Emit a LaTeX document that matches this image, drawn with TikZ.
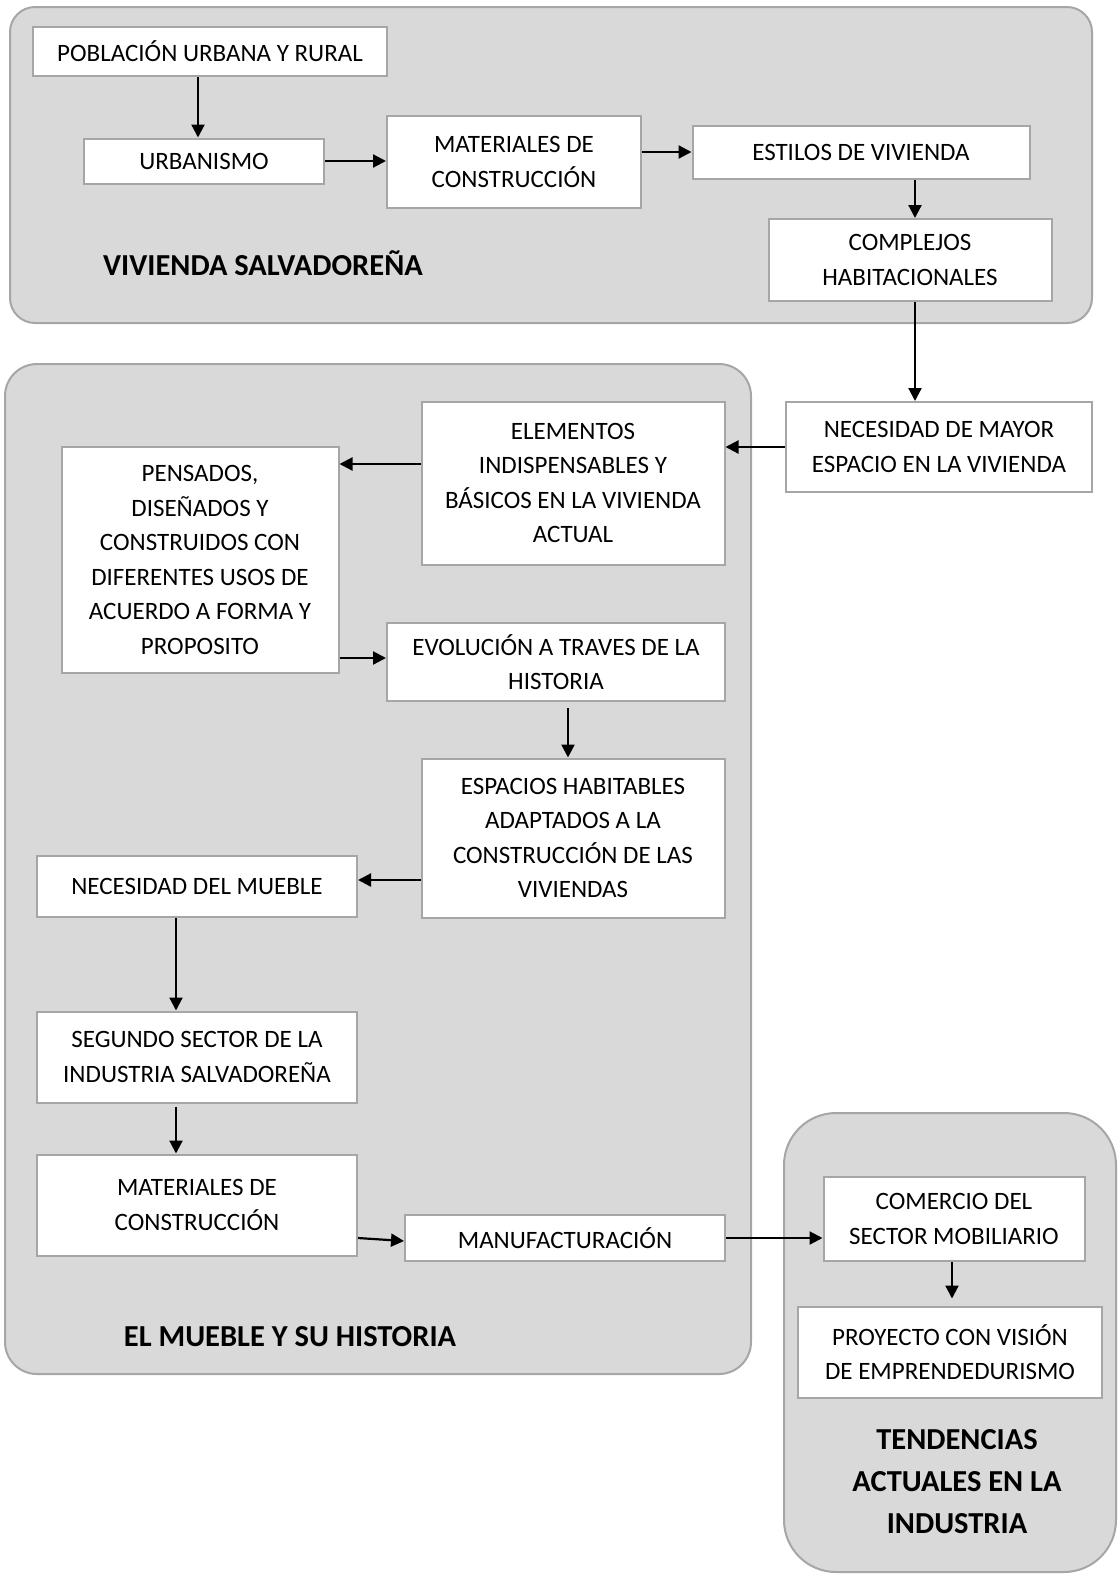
\documentclass[tikz,border=0pt]{standalone}
\usepackage{fontspec}
\setmainfont{Carlito}
\usetikzlibrary{calc}
\usetikzlibrary{arrows.meta}
\definecolor{panelgray}{HTML}{D9D9D9}
\definecolor{edgegray}{HTML}{A6A6A6}
\tikzstyle{panel}=[draw=edgegray,line width=2pt,fill=panelgray]
\tikzstyle{box}=[draw=edgegray,line width=2pt,fill=white,inner sep=0pt,align=center,font={\fontsize{25}{34.5}\selectfont}]
\tikzstyle{arr}=[line width=2.2pt,-{Triangle[length=13pt,width=13pt]}]
\tikzstyle{title}=[align=center,font={\fontsize{30.5}{42}\selectfont\bfseries}]
\newcommand{\boxat}[5]{% name, center x, center y, width, height
  \node[box,minimum width=#4pt,minimum height=#5pt] (#1) at (#2,#3)
}
\begin{document}
\begin{tikzpicture}[x=1pt,y=-1pt]
\useasboundingbox (0,0) rectangle (1119,1575);
% the three grey panels
\draw[panel,rounded corners=25pt] (10,7) rectangle (1092,323);
\draw[panel,rounded corners=32pt] (5,364) rectangle (751,1374);
\draw[panel,rounded corners=52pt] (784,1113) rectangle (1116,1572);
% vivienda salvadorena
\boxat{pob}{210}{51.5}{354}{49} {POBLACIÓN URBANA Y RURAL};
\boxat{urb}{204}{161}{240}{45} {URBANISMO};
\boxat{mat1}{514}{162}{254}{92} {MATERIALES DE\\CONSTRUCCIÓN};
\boxat{est}{861}{152}{337}{53} {ESTILOS DE VIVIENDA};
\boxat{comp}{910}{260}{283}{82} {COMPLEJOS\\HABITACIONALES};
\node[title] (vivlabel) at (263,263) {VIVIENDA SALVADOREÑA};
% el mueble y su historia
\boxat{nec1}{939}{447}{306}{90} {NECESIDAD DE MAYOR\\ESPACIO EN LA VIVIENDA};
\boxat{elem}{573}{483}{303}{163} {ELEMENTOS\\INDISPENSABLES Y\\BÁSICOS EN LA VIVIENDA\\ACTUAL};
\boxat{pens}{200}{560}{277}{226} {PENSADOS,\\DISEÑADOS Y\\CONSTRUIDOS CON\\DIFERENTES USOS DE\\ACUERDO A FORMA Y\\PROPOSITO};
\boxat{evol}{556}{662}{338}{78} {EVOLUCIÓN A TRAVES DE LA\\HISTORIA};
\boxat{esp}{573}{838}{303}{159} {ESPACIOS HABITABLES\\ADAPTADOS A LA\\CONSTRUCCIÓN DE LAS\\VIVIENDAS};
\boxat{necm}{197}{886}{320}{61} {NECESIDAD DEL MUEBLE};
\boxat{seg}{197}{1057}{320}{91} {SEGUNDO SECTOR DE LA\\INDUSTRIA SALVADOREÑA};
\boxat{mat2}{197}{1205}{320}{101} {MATERIALES DE\\CONSTRUCCIÓN};
\boxat{manu}{565}{1238}{320}{46} {MANUFACTURACIÓN};
\node[title] (muelabel) at (290,1337) {EL MUEBLE Y SU HISTORIA};
% tendencias
\boxat{com}{954}{1219}{261}{84} {COMERCIO DEL\\SECTOR MOBILIARIO};
\boxat{proy}{950}{1352}{304}{91} {PROYECTO CON VISIÓN\\DE EMPRENDEDURISMO};
\node[title] (tendlabel) at (957,1482) {TENDENCIAS\\ACTUALES EN LA\\INDUSTRIA};
% arrows
\draw[arr] ($(pob.south)+(-12,0)$) -- ($(urb.north)+(-6,0)$);
\draw[arr] (urb.east) -- (urb.east -| mat1.west);
\draw[arr] (mat1.east |- est.west) -- (est.west);
\draw[arr] ($(comp.north |- est.south)+(5,0)$) -- ($(comp.north)+(5,0)$);
\draw[arr] ($(comp.south)+(5,0)$) -- ($(comp.south |- nec1.north)+(5,0)$);
\draw[arr] (nec1.west) -- (nec1.west -| elem.east);
\draw[arr] ($(elem.west)+(0,-19)$) -- ($(elem.west -| pens.east)+(0,-19)$);
\draw[arr] ($(evol.west -| pens.east)+(0,-4)$) -- ($(evol.west)+(0,-4)$);
\draw[arr] ($(esp.north |- evol.south)+(-5,6)$) -- ($(esp.north)+(-5,0)$);
\draw[arr] ($(esp.west |- necm.east)+(0,-6)$) -- ($(necm.east)+(0,-6)$);
\draw[arr] ($(necm.south)+(-21,0)$) -- ($(seg.north)+(-21,0)$);
\draw[arr] ($(seg.south)+(-21,3)$) -- ($(mat2.north)+(-21,0)$);
\draw[arr] ($(mat2.east)+(0,33)$) -- ($(manu.west)+(0,3)$);
\draw[arr] (manu.east) -- (manu.east -| com.west);
\draw[arr,shorten >=7pt] ($(com.south)+(-2,0)$) -- ($(com.south |- proy.north)+(-2,0)$);
\end{tikzpicture}
\end{document}
